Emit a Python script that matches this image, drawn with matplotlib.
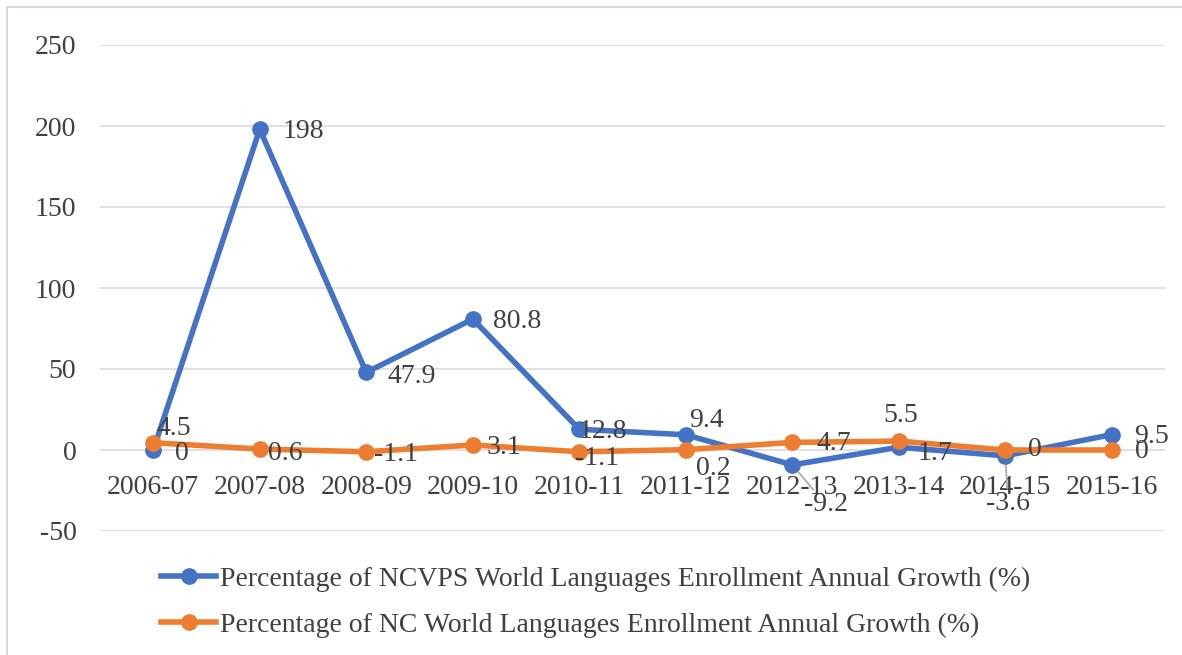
import matplotlib
matplotlib.use("Agg")
import matplotlib.pyplot as plt
from matplotlib.lines import Line2D

years = ["2006-07", "2007-08", "2008-09", "2009-10", "2010-11",
         "2011-12", "2012-13", "2013-14", "2014-15", "2015-16"]
ncvps_growth = [0, 198, 47.9, 80.8, 12.8, 9.4, -9.2, 1.7, -3.6, 9.5]
nc_growth = [4.5, 0.6, -1.1, 3.1, -1.1, 0.2, 4.7, 5.5, 0, 0]
ncvps_name = "Percentage of NCVPS World Languages Enrollment Annual Growth (%)"
nc_name = "Percentage of NC World Languages Enrollment Annual Growth (%)"

blue = "#4472C4"
orange = "#ED7D31"
txt = "#404040"
grid = "#D9D9D9"
px = 0.72  # points per pixel at dpi 100
fs = 20

# label offsets in pixels (dx, dy), y up
blue_off = [(29, -3), (44, -2), (46, -4), (44, -2), (24, -2),
            (21, 14), (34, -40), (36, -6), (3, -48), (40, -2)]
orange_off = [(21, 14), (26, -4), (30, -3), (31, -3), (18, -7),
              (28, -19), (42, -1), (2, 26), (30, 0), (30, -2)]
leader = {("b", 6), ("b", 8)}

plt.rcParams["font.family"] = ["Liberation Serif", "DejaVu Serif"]
plt.rcParams["axes.unicode_minus"] = False

fig = plt.figure(figsize=(11.82, 6.55), dpi=100)
ax = fig.add_axes([100 / 1182, 1 - 531 / 655, 1065 / 1182, 486 / 655])

x = list(range(len(years)))
ax.plot(x, ncvps_growth, color=blue, lw=4, marker="o", ms=11,
        solid_capstyle="round", solid_joinstyle="round", zorder=3)
ax.plot(x, nc_growth, color=orange, lw=4, marker="o", ms=11,
        solid_capstyle="round", solid_joinstyle="round", zorder=4)

for key, vals, offs in (("b", ncvps_growth, blue_off), ("o", nc_growth, orange_off)):
    for i, (v, (dx, dy)) in enumerate(zip(vals, offs)):
        props = None
        if (key, i) in leader:
            props = dict(arrowstyle="-", color="#A6A6A6", lw=1.2,
                         shrinkA=0, shrinkB=7)
        ax.annotate(f"{v:g}", (i, v), xytext=(dx * px, dy * px),
                    textcoords="offset points", ha="center", va="center",
                    fontsize=fs, color=txt, arrowprops=props, zorder=5)

ax.set_xlim(-0.5, len(years) - 0.5)
ax.set_ylim(-50, 250)
ax.set_yticks(range(-50, 251, 50))
ax.set_xticks(x)
ax.set_xticklabels(years)
ax.grid(axis="y", color=grid, lw=1.1)
ax.set_axisbelow(True)
for s in ("top", "right", "left"):
    ax.spines[s].set_visible(False)
ax.spines["bottom"].set_position(("data", 0))
ax.spines["bottom"].set_color("none")
ax.tick_params(axis="x", length=0, pad=18, labelsize=fs, labelcolor=txt)
ax.tick_params(axis="y", length=0, pad=17, labelsize=fs, labelcolor=txt)

handles = [Line2D([], [], color=blue, lw=4, marker="o", ms=11),
           Line2D([], [], color=orange, lw=4, marker="o", ms=11)]
fig.legend(handles, [ncvps_name, nc_name], loc="center",
           bbox_to_anchor=(596 / 1182, 1 - 602 / 655), frameon=False,
           fontsize=fs, labelcolor=txt, handlelength=1.98,
           handletextpad=0.15, labelspacing=0.73)

# chart area border (top and left edges visible)
fig.add_artist(Line2D([7 / 1182, 1], [1 - 7 / 655, 1 - 7 / 655],
                      transform=fig.transFigure, color=grid, lw=1.5))
fig.add_artist(Line2D([7 / 1182, 7 / 1182], [0, 1 - 7 / 655],
                      transform=fig.transFigure, color=grid, lw=1.5))

fig.savefig("out.png", dpi=100)
